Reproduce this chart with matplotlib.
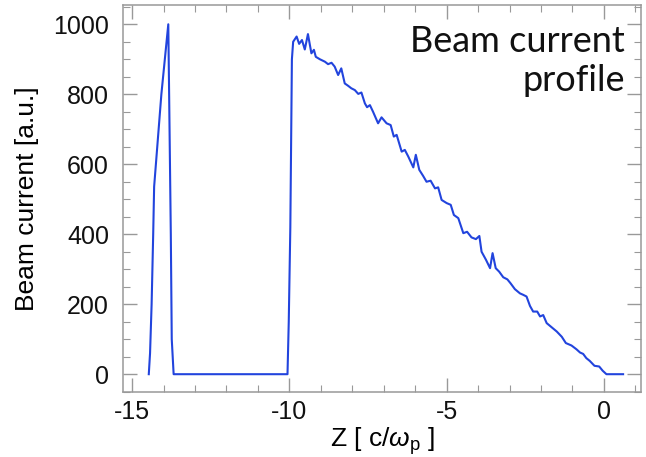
import matplotlib
matplotlib.use("Agg")
import matplotlib.pyplot as plt
from matplotlib.ticker import MultipleLocator

# -----------------------------
# DATA
# -----------------------------
# driver bunch (short triangular spike)
z_driver = [-14.47, -14.43, -14.38, -14.33, -14.30, -14.07, -13.85, -13.77, -13.74, -13.68]
i_driver = [0, 60, 200, 400, 536, 800, 1000, 400, 100, 0]

# gap between bunches
z_gap = [-13.68, -10.06]
i_gap = [0, 0]

# witness bunch (ramped, noisy)
z_witness = [
    -10.06, -10.02, -9.97, -9.92, -9.88, -9.77, -9.69, -9.60, -9.51, -9.41,
    -9.30, -9.22, -9.16, -9.03, -8.87, -8.77, -8.66, -8.56, -8.45, -8.35,
    -8.24, -8.13, -8.03, -7.92, -7.81, -7.71, -7.60, -7.53, -7.44, -7.34,
    -7.18, -7.07, -6.91, -6.78, -6.68, -6.59, -6.43, -6.33, -6.22, -6.06,
    -5.98, -5.87, -5.75, -5.64, -5.51, -5.37, -5.27, -5.16, -5.00, -4.87,
    -4.77, -4.63, -4.47, -4.35, -4.21, -4.07, -3.96, -3.89, -3.75, -3.62,
    -3.54, -3.44, -3.33, -3.20, -3.07, -2.97, -2.83, -2.67, -2.57, -2.46,
    -2.35, -2.25, -2.12, -2.03, -1.93, -1.82, -1.66, -1.50, -1.34, -1.21,
    -1.03, -0.87, -0.76, -0.66, -0.56, -0.45, -0.30, -0.15, -0.04, 0.08,
    0.61,
]
i_witness = [
    0, 150, 420, 900, 950, 965, 944, 955, 928, 972,
    917, 927, 907, 900, 893, 886, 890, 879, 855, 874,
    831, 824, 817, 812, 801, 805, 774, 763, 769, 750,
    717, 734, 717, 712, 679, 684, 636, 641, 622, 591,
    627, 584, 567, 550, 553, 531, 534, 498, 489, 484,
    455, 446, 403, 407, 391, 386, 395, 350, 327, 303,
    346, 303, 293, 277, 271, 260, 243, 231, 227, 222,
    195, 179, 179, 165, 169, 146, 134, 122, 107, 89,
    82, 71, 62, 58, 46, 38, 24, 22, 10, 0,
    0,
]

z_all = z_driver + z_gap[1:] + z_witness[1:]
i_all = i_driver + i_gap[1:] + i_witness[1:]

# -----------------------------
# PLOT
# -----------------------------
plt.rcParams['font.family'] = ['Liberation Sans', 'DejaVu Sans']
plt.rcParams['axes.unicode_minus'] = False
plt.rcParams['mathtext.fontset'] = 'custom'
plt.rcParams['mathtext.rm'] = 'Liberation Sans'
plt.rcParams['mathtext.it'] = 'Liberation Sans:italic'

fig = plt.figure(figsize=(6.46, 4.57), dpi=100)
ax = fig.add_axes([0.1904, 0.1429, 0.8019, 0.8461])

ax.plot(z_all, i_all, color='#2244dd', lw=1.5)

ax.set_xlim(-15.29, 1.18)
ax.set_ylim(-50, 1055)

ax.xaxis.set_major_locator(MultipleLocator(5))
ax.xaxis.set_minor_locator(MultipleLocator(1))
ax.yaxis.set_major_locator(MultipleLocator(200))
ax.yaxis.set_minor_locator(MultipleLocator(50))

grey = '#999999'
for s in ax.spines.values():
    s.set_color(grey)
    s.set_linewidth(1.1)
ax.tick_params(which='both', direction='in', top=True, right=True,
               color=grey, labelsize=18, labelcolor='#111111')
ax.tick_params(which='major', length=10, width=1.0)
ax.tick_params(which='minor', length=5, width=0.8)
ax.tick_params(axis='y', pad=10)
ax.tick_params(axis='x', pad=6)

ax.set_xlabel(r'Z [ c/$\omega_{\rm p}$ ]', fontsize=19, labelpad=1)
ax.set_ylabel('Beam current [a.u.]', fontsize=19, labelpad=10)

# annotation
ax.text(0.969, 0.948, 'Beam current\nprofile', transform=ax.transAxes,
        ha='right', va='top', fontsize=26, family='Lato',
        color='#111111', linespacing=1.22)

plt.savefig('out.png', dpi=100)
plt.close()
